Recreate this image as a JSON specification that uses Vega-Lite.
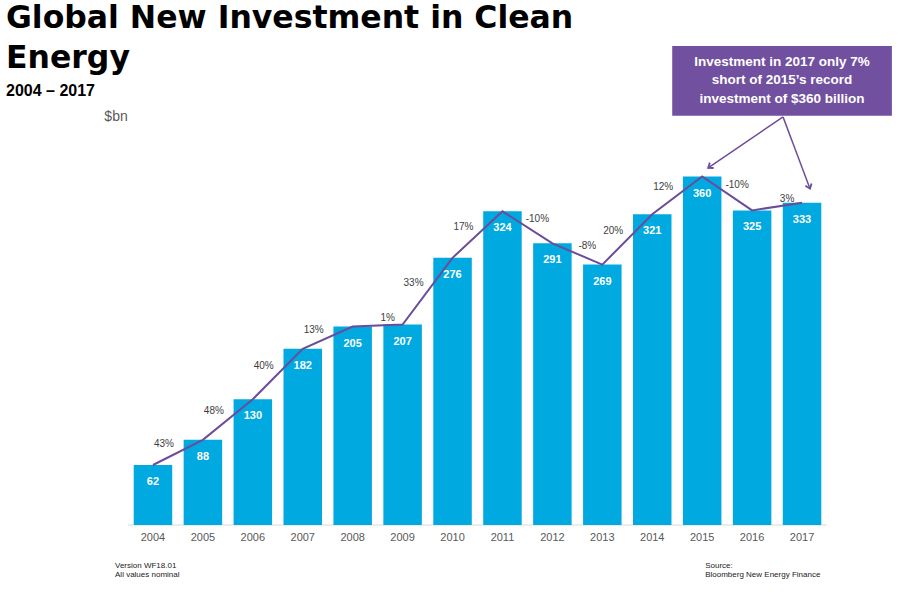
{
  "$schema": "https://vega.github.io/schema/vega-lite/v6.json",
  "width": 699,
  "height": 484,
  "autosize": {"type": "none"},
  "padding": {"left": 128, "top": 41, "right": 73, "bottom": 74},
  "background": "white",
  "config": {"view": {"stroke": null}, "font": "Liberation Sans"},
  "title": {
    "text": ["Global New Investment in Clean", "Energy"],
    "subtitle": "2004 – 2017",
    "anchor": "start",
    "frame": "group",
    "dx": -122,
    "offset": -58,
    "font": "DejaVu Sans",
    "fontSize": 31.5,
    "fontWeight": "bold",
    "color": "#000000",
    "lineHeight": 40,
    "subtitleFont": "Liberation Sans",
    "subtitleFontSize": 16,
    "subtitleFontWeight": "bold",
    "subtitleColor": "#000000",
    "subtitlePadding": 9
  },
  "datasets": {
    "main": [
      {"year": 2004, "value": 62, "pct": null},
      {"year": 2005, "value": 88, "pct": 43},
      {"year": 2006, "value": 130, "pct": 48},
      {"year": 2007, "value": 182, "pct": 40},
      {"year": 2008, "value": 205, "pct": 13},
      {"year": 2009, "value": 207, "pct": 1},
      {"year": 2010, "value": 276, "pct": 33},
      {"year": 2011, "value": 324, "pct": 17},
      {"year": 2012, "value": 291, "pct": -10},
      {"year": 2013, "value": 269, "pct": -8},
      {"year": 2014, "value": 321, "pct": 20},
      {"year": 2015, "value": 360, "pct": 12},
      {"year": 2016, "value": 325, "pct": -10},
      {"year": 2017, "value": 333, "pct": 3}
    ],
    "box": [
      {"x1": 2014.4, "x2": 2018.8, "y1": 494.8, "y2": 422.7, "xc": 2016.6, "yc": 478.5, "note": "Investment in 2017 only 7%\nshort of 2015’s record\ninvestment of $360 billion"}
    ],
    "arrows": [
      {"target": "2015", "sx": 2016.62, "sy": 421.6, "tx": 2015.12, "ty": 369},
      {"target": "2017", "sx": 2016.62, "sy": 421.6, "tx": 2017.16, "ty": 347.4}
    ],
    "notes": [
      {"x": 2003.24, "y": -38.5, "note": "Version WF18.01\nAll values  nominal"},
      {"x": 2015.06, "y": -38.5, "note": "Source:\nBloomberg New Energy Finance"}
    ],
    "unit": [
      {"x": 2003.26, "y": 421.5, "note": "$bn"}
    ],
    "baseline": [
      {"x": 2003.5, "x2": 2017.5, "y": 0}
    ]
  },
  "layer": [
    {
      "data": {"name": "baseline"},
      "mark": {"type": "rule", "color": "#d9d9d9", "strokeWidth": 1},
      "encoding": {
        "x": {"field": "x", "type": "quantitative", "scale": {"domain": [2003.5, 2017.5], "nice": false, "zero": false, "padding": 0}, "axis": null},
        "x2": {"field": "x2"},
        "y": {"field": "y", "type": "quantitative", "scale": {"domain": [0, 500], "nice": false}, "axis": null}
      }
    },
    {
      "data": {"name": "main"},
      "mark": {"type": "bar", "color": "#00A9E0", "width": 38.5},
      "encoding": {
        "x": {"field": "year", "type": "quantitative", "axis": null},
        "y": {"field": "value", "type": "quantitative", "axis": null}
      }
    },
    {
      "data": {"name": "main"},
      "mark": {"type": "text", "color": "#595959", "fontSize": 11, "baseline": "middle", "dy": 13},
      "encoding": {
        "x": {"field": "year", "type": "quantitative", "axis": null},
        "y": {"datum": 0, "type": "quantitative", "axis": null},
        "text": {"field": "year", "type": "nominal"}
      }
    },
    {
      "data": {"name": "main"},
      "mark": {"type": "line", "color": "#6B4C9A", "strokeWidth": 2},
      "encoding": {
        "x": {"field": "year", "type": "quantitative", "axis": null},
        "y": {"field": "value", "type": "quantitative", "axis": null}
      }
    },
    {
      "data": {"name": "main"},
      "mark": {"type": "text", "color": "#ffffff", "fontSize": 11, "fontWeight": "bold", "baseline": "middle", "dy": 17},
      "encoding": {
        "x": {"field": "year", "type": "quantitative", "axis": null},
        "y": {"field": "value", "type": "quantitative", "axis": null},
        "text": {"field": "value", "type": "quantitative"}
      }
    },
    {
      "data": {"name": "main"},
      "transform": [
        {"window": [{"op": "mean", "field": "value", "as": "mid"}], "frame": [-1, 0], "sort": [{"field": "year"}]},
        {"filter": "datum.pct != null && datum.pct > 5"},
        {"calculate": "datum.pct + '%'", "as": "pctLabel"}
      ],
      "mark": {"type": "text", "color": "#404040", "fontSize": 10, "baseline": "middle", "dx": -39, "dy": -8},
      "encoding": {
        "x": {"field": "year", "type": "quantitative", "axis": null},
        "y": {"field": "mid", "type": "quantitative", "axis": null},
        "text": {"field": "pctLabel"}
      }
    },
    {
      "data": {"name": "main"},
      "transform": [
        {"window": [{"op": "mean", "field": "value", "as": "mid"}], "frame": [-1, 0], "sort": [{"field": "year"}]},
        {"filter": "datum.pct != null && datum.pct <= 5"},
        {"calculate": "datum.pct + '%'", "as": "pctLabel"}
      ],
      "mark": {"type": "text", "color": "#404040", "fontSize": 10, "baseline": "middle", "dx": -15, "dy": -8},
      "encoding": {
        "x": {"field": "year", "type": "quantitative", "axis": null},
        "y": {"field": "mid", "type": "quantitative", "axis": null},
        "text": {"field": "pctLabel"}
      }
    },
    {
      "data": {"name": "box"},
      "mark": {"type": "rect", "color": "#7150A0"},
      "encoding": {
        "x": {"field": "x1", "type": "quantitative", "axis": null},
        "x2": {"field": "x2"},
        "y": {"field": "y1", "type": "quantitative", "axis": null},
        "y2": {"field": "y2"}
      }
    },
    {
      "data": {"name": "box"},
      "mark": {"type": "text", "color": "#ffffff", "fontSize": 13.5, "fontWeight": "bold", "lineBreak": "\n", "lineHeight": 18.5, "align": "center", "baseline": "middle"},
      "encoding": {
        "x": {"field": "xc", "type": "quantitative", "axis": null},
        "y": {"field": "yc", "type": "quantitative", "axis": null},
        "text": {"field": "note"}
      }
    },
    {
      "data": {"name": "arrows"},
      "mark": {"type": "rule", "color": "#6B4C9A", "strokeWidth": 1.5},
      "encoding": {
        "x": {"field": "sx", "type": "quantitative", "axis": null},
        "y": {"field": "sy", "type": "quantitative", "axis": null},
        "x2": {"field": "tx"},
        "y2": {"field": "ty"}
      }
    },
    {
      "data": {"name": "arrows"},
      "transform": [{"filter": "datum.target == '2015'"}],
      "mark": {"type": "point", "shape": "M -0.6 0.8 L 0 0 L 0.6 0.8", "filled": false, "color": "#6B4C9A", "strokeWidth": 1.8, "size": 120, "angle": 235, "opacity": 1},
      "encoding": {
        "x": {"field": "tx", "type": "quantitative", "axis": null},
        "y": {"field": "ty", "type": "quantitative", "axis": null}
      }
    },
    {
      "data": {"name": "arrows"},
      "transform": [{"filter": "datum.target == '2017'"}],
      "mark": {"type": "point", "shape": "M -0.6 0.8 L 0 0 L 0.6 0.8", "filled": false, "color": "#6B4C9A", "strokeWidth": 1.8, "size": 120, "angle": 159, "opacity": 1},
      "encoding": {
        "x": {"field": "tx", "type": "quantitative", "axis": null},
        "y": {"field": "ty", "type": "quantitative", "axis": null}
      }
    },
    {
      "data": {"name": "notes"},
      "mark": {"type": "text", "color": "#222222", "fontSize": 8, "lineBreak": "\n", "lineHeight": 9, "align": "left", "baseline": "top"},
      "encoding": {
        "x": {"field": "x", "type": "quantitative", "axis": null},
        "y": {"field": "y", "type": "quantitative", "axis": null},
        "text": {"field": "note"}
      }
    },
    {
      "data": {"name": "unit"},
      "mark": {"type": "text", "color": "#595959", "fontSize": 14, "align": "center", "baseline": "middle"},
      "encoding": {
        "x": {"field": "x", "type": "quantitative", "axis": null},
        "y": {"field": "y", "type": "quantitative", "axis": null},
        "text": {"field": "note"}
      }
    }
  ]
}
